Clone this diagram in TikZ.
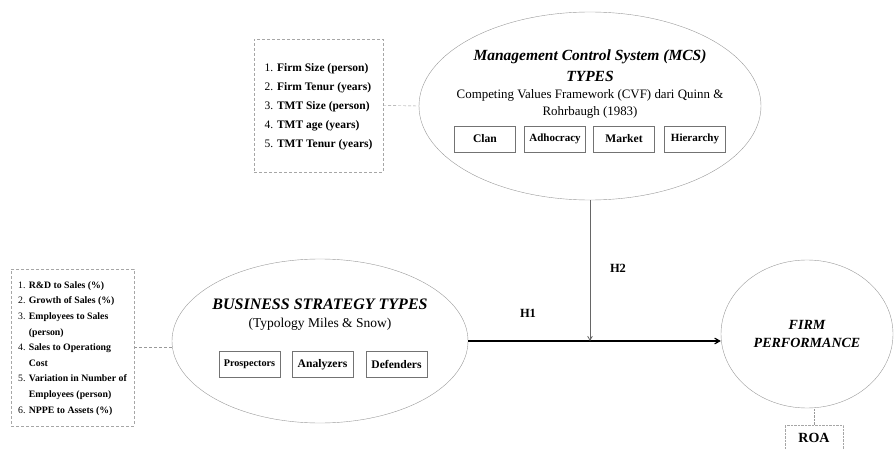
\documentclass[tikz,border=0pt]{standalone}
\usepackage{fontspec}
\usepackage{array}
\setmainfont{Liberation Serif}
\usetikzlibrary{shapes.geometric, arrows}
\tikzstyle{construct} = [ellipse, draw=black!40, inner sep=0pt, align=center]
\tikzstyle{measures} = [rectangle, draw=black!35, densely dashed, inner sep=0pt]
\tikzstyle{typebox} = [rectangle, draw=black!55, thick, minimum width=61, minimum height=26, inner sep=1pt, font=\fontsize{11.6}{13}\selectfont\bfseries]
\tikzstyle{link} = [draw=black!40, densely dashed]
\tikzstyle{arrow} = [very thick, ->, >=angle 60]
\tikzstyle{hyp} = [font=\fontsize{12.5}{14}\selectfont\bfseries]

\begin{document}
\begin{tikzpicture}[x=1pt, y=-1pt]
\useasboundingbox (0,0) rectangle (894,449);
% moderator
\node (mcs) [construct, minimum width=342, minimum height=188] at (590,106) {};
\node (mcstitle) [font=\fontsize{15.5}{21}\selectfont\bfseries\itshape, align=center] at (590,65.5) {Management Control System (MCS)\\TYPES};
\node (cvf) [font=\fontsize{12.9}{17}\selectfont, align=center] at (590,103.5) {Competing Values Framework (CVF) dari Quinn \&\\Rohrbaugh (1983)};
\node (clan) [typebox] at (485,139) {Clan};
\node (adhoc) [typebox, font=\fontsize{11}{13}\selectfont\bfseries] at (555,139) {Adhocracy};
\node (market) [typebox] at (624,139) {Market};
\node (hier) [typebox, font=\fontsize{11}{13}\selectfont\bfseries] at (695,139) {Hierarchy};
\node (ctrl) [measures, minimum width=129, minimum height=133, font=\fontsize{11.5}{19}\selectfont\bfseries] at (318.5,105.5) {%
\begin{tabular}{@{}>{\mdseries}r@{ }l@{}}
1.&Firm Size (person)\\
2.&Firm Tenur (years)\\
3.&TMT Size (person)\\
4.&TMT age (years)\\
5.&TMT Tenur (years)
\end{tabular}};
\draw [link] (ctrl.east) -- (mcs.west);
% independent
\node (bst) [construct, minimum width=296, minimum height=164] at (320,341) {};
\node (bsttitle) [font=\fontsize{16}{19}\selectfont\bfseries\itshape] at (320,304) {BUSINESS STRATEGY TYPES};
\node (miles) [font=\fontsize{13.5}{16}\selectfont] at (320,324) {(Typology Miles \& Snow)};
\node (pros) [typebox, font=\fontsize{10.2}{12}\selectfont\bfseries] at (249.5,364.5) {Prospectors};
\node (anal) [typebox] at (322.5,364.5) {Analyzers};
\node (def) [typebox] at (396.5,364.5) {Defenders};
\node (ratio) [measures, minimum width=123, minimum height=157, font=\fontsize{9.8}{15.6}\selectfont\bfseries] at (72.5,347.5) {%
\begin{tabular}{@{}>{\mdseries}r@{ }l@{}}
1.&R\&D to Sales (\%)\\
2.&Growth of Sales (\%)\\
3.&Employees to Sales\\
&(person)\\
4.&Sales to Operationg\\
&Cost\\
5.&Variation in Number of\\
&Employees (person)\\
6.&NPPE to Assets (\%)
\end{tabular}};
\draw [link] (ratio.east) -- (ratio.east -| bst.west);
% dependent
\node (fp) [construct, minimum width=172, minimum height=148, font=\fontsize{14}{18}\selectfont\bfseries\itshape] at (807,334) {FIRM\\PERFORMANCE};
\node (roa) [measures, densely dotted, minimum width=58, minimum height=26, font=\fontsize{14}{16}\selectfont\bfseries] at (814,438) {ROA};
\draw [link, densely dotted] (roa.north) -- (roa.north |- fp.south);
% hypotheses
\coordinate (meet) at (mcs.south |- bst.east);
\draw [arrow] (bst.east) -- (bst.east -| fp.west);
\draw [arrow, thick, draw=black!60] (mcs.south) -- (meet);
\node (h1) [hyp] at (528,313) {H1};
\node (h2) [hyp] at (618,268) {H2};
\end{tikzpicture}
\end{document}
